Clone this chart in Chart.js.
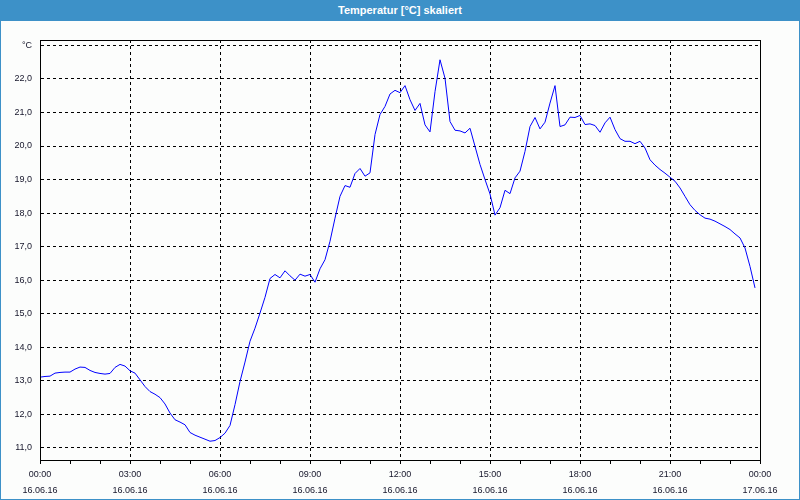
<!DOCTYPE html>
<html>
<head>
<meta charset="utf-8">
<script src="https://cdn.jsdelivr.net/npm/chart.js@4/dist/chart.umd.min.js"></script>
<style>
  html, body { margin: 0; padding: 0; background: #fcfdfc; }
  #wrap { position: relative; width: 800px; height: 500px; background: #fcfdfc; overflow: hidden; }
  #c { position: absolute; left: 0; top: 0; }
  #title { position: absolute; left: 0; top: 0; width: 800px; height: 21px; background: #3d91c8;
           color: #ffffff; font: bold 11px "Liberation Sans", Arial, sans-serif; text-align: center; line-height: 20px; }
  #frame { position: absolute; left: 0; top: 0; width: 800px; height: 500px; box-sizing: border-box;
           border-left: 1px solid #3d91c8; border-right: 1px solid #3d91c8; border-bottom: 1px solid #3d91c8; pointer-events: none; }
</style>
</head>
<body>
<div id="wrap">
  <canvas id="c" width="800" height="500"></canvas>
  <div id="title">Temperatur [°C] skaliert</div>
  <div id="frame"></div>
</div>
<script>
// Sample times (16.06.16, every 10 minutes)
const times = [
 '00:00','00:10','00:20','00:30','00:40','00:50','01:00','01:10','01:20','01:30','01:40','01:50',
 '02:00','02:10','02:20','02:30','02:40','02:50','03:00','03:10','03:20','03:30','03:40','03:50',
 '04:00','04:10','04:20','04:30','04:40','04:50','05:00','05:10','05:20','05:30','05:40','05:50',
 '06:00','06:10','06:20','06:30','06:40','06:50','07:00','07:10','07:20','07:30','07:40','07:50',
 '08:00','08:10','08:20','08:30','08:40','08:50','09:00','09:10','09:20','09:30','09:40','09:50',
 '10:00','10:10','10:20','10:30','10:40','10:50','11:00','11:10','11:20','11:30','11:40','11:50',
 '12:00','12:10','12:20','12:30','12:40','12:50','13:00','13:10','13:20','13:30','13:40','13:50',
 '14:00','14:10','14:20','14:30','14:40','14:50','15:00','15:10','15:20','15:30','15:40','15:50',
 '16:00','16:10','16:20','16:30','16:40','16:50','17:00','17:10','17:20','17:30','17:40','17:50',
 '18:00','18:10','18:20','18:30','18:40','18:50','19:00','19:10','19:20','19:30','19:40','19:50',
 '20:00','20:10','20:20','20:30','20:40','20:50','21:00','21:10','21:20','21:30','21:40','21:50',
 '22:00','22:10','22:20','22:30','22:40','22:50','23:00','23:10','23:20','23:30','23:40','23:50'
];
// Temperature in °C
const temps = [
 13.11, 13.13, 13.14, 13.23, 13.25, 13.26,
 13.26, 13.35, 13.41, 13.40, 13.31, 13.25,
 13.22, 13.20, 13.22, 13.40, 13.49, 13.44,
 13.30, 13.23, 13.03, 12.83, 12.68, 12.60,
 12.50, 12.31, 12.04, 11.84, 11.77, 11.69,
 11.46, 11.38, 11.32, 11.26, 11.20, 11.22,
 11.31, 11.44, 11.67, 12.29, 12.98, 13.56,
 14.18, 14.57, 15.02, 15.49, 16.05, 16.17,
 16.07, 16.28, 16.13, 16.00, 16.18, 16.12,
 16.17, 15.94, 16.34, 16.61, 17.16, 17.85,
 18.50, 18.82, 18.77, 19.18, 19.33, 19.10,
 19.20, 20.34, 20.94, 21.18, 21.55, 21.66,
 21.59, 21.80, 21.38, 21.06, 21.27, 20.63,
 20.42, 21.62, 22.57, 22.02, 20.73, 20.47,
 20.45, 20.39, 20.53, 19.99, 19.45, 19.00,
 18.57, 17.94, 18.16, 18.68, 18.58, 19.05,
 19.25, 19.84, 20.58, 20.85, 20.51, 20.71,
 21.28, 21.80, 20.58, 20.63, 20.86, 20.85,
 20.91, 20.64, 20.66, 20.61, 20.41, 20.69,
 20.86, 20.49, 20.22, 20.14, 20.14, 20.07,
 20.14, 19.94, 19.59, 19.43, 19.30, 19.19,
 19.07, 18.95, 18.75, 18.50, 18.25, 18.08,
 17.95, 17.85, 17.82, 17.76, 17.68, 17.60,
 17.51, 17.38, 17.26, 16.96, 16.41, 15.77
];
// X axis: hourly tick marks, labels every 3 hours
const xTickHours = [0,1,2,3,4,5,6,7,8,9,10,11,12,13,14,15,16,17,18,19,20,21,22,23,24];
const xLabelHours = [0, 3, 6, 9, 12, 15, 18, 21, 24];
const xLabelTimes = ['00:00','03:00','06:00','09:00','12:00','15:00','18:00','21:00','00:00'];
const xLabelDates = ['16.06.16','16.06.16','16.06.16','16.06.16','16.06.16','16.06.16','16.06.16','16.06.16','17.06.16'];
// Y axis
const yTicks = [11, 12, 13, 14, 15, 16, 17, 18, 19, 20, 21, 22, 23];
const yUnitTick = 23;
const yUnitLabel = '°C';
const yMin = 10.64, yMax = 23.16;

const toHours = s => { const p = s.split(':'); return (+p[0]) + (+p[1]) / 60; };
const points = times.map((t, i) => ({ x: toHours(t), y: temps[i] }));

const textColor = '#15152a';
const tickFont = { family: '"Liberation Sans", Arial, sans-serif', size: 9, lineHeight: 1.75 };

const frameBox = {
  id: 'frameBox',
  afterDraw(chart) {
    const a = chart.chartArea, ctx = chart.ctx;
    ctx.save();
    ctx.strokeStyle = '#000000';
    ctx.lineWidth = 1;
    ctx.setLineDash([]);
    ctx.strokeRect(Math.round(a.left) + 0.5, Math.round(a.top) + 0.5,
                   Math.round(a.right - a.left), Math.round(a.bottom - a.top));
    ctx.restore();
  }
};

new Chart(document.getElementById('c'), {
  type: 'line',
  data: {
    datasets: [{
      data: points,
      borderColor: '#0000ff',
      borderWidth: 1,
      pointRadius: 0,
      tension: 0,
      fill: false
    }]
  },
  options: {
    responsive: false,
    devicePixelRatio: 1,
    animation: false,
    events: [],
    layout: { padding: { left: 0, right: 40, top: 40, bottom: 0 } },
    plugins: { legend: { display: false }, tooltip: { enabled: false }, title: { display: false } },
    scales: {
      x: {
        type: 'linear',
        min: 0, max: 24,
        afterBuildTicks: axis => { axis.ticks = xTickHours.map(v => ({ value: v })); },
        afterFit: axis => { axis.height = 40; },
        grid: {
          color: ctx => (ctx.tick && xLabelHours.includes(ctx.tick.value) && ctx.tick.value !== 0 && ctx.tick.value !== 24) ? '#000000' : 'rgba(0,0,0,0)',
          lineWidth: 1,
          drawTicks: true,
          tickLength: 4,
          tickColor: '#000000',
          tickWidth: 1
        },
        border: { display: true, color: '#000000', width: 1, dash: [3, 3] },
        ticks: {
          autoSkip: false,
          maxRotation: 0, minRotation: 0,
          padding: 3,
          color: textColor,
          font: tickFont,
          callback: v => {
            const i = xLabelHours.indexOf(v);
            return i >= 0 ? [xLabelTimes[i], xLabelDates[i]] : '';
          }
        }
      },
      y: {
        type: 'linear',
        min: yMin, max: yMax,
        afterBuildTicks: axis => { axis.ticks = yTicks.map(v => ({ value: v })); },
        afterFit: axis => { axis.width = 40; },
        grid: { color: '#000000', lineWidth: 1, drawTicks: false },
        border: { display: true, color: '#000000', width: 1, dash: [3, 3] },
        ticks: {
          padding: 8,
          color: textColor,
          font: { family: '"Liberation Sans", Arial, sans-serif', size: 9 },
          callback: v => v === yUnitTick ? yUnitLabel : v.toFixed(1).replace('.', ',')
        }
      }
    }
  },
  plugins: [frameBox]
});
</script>
</body>
</html>
